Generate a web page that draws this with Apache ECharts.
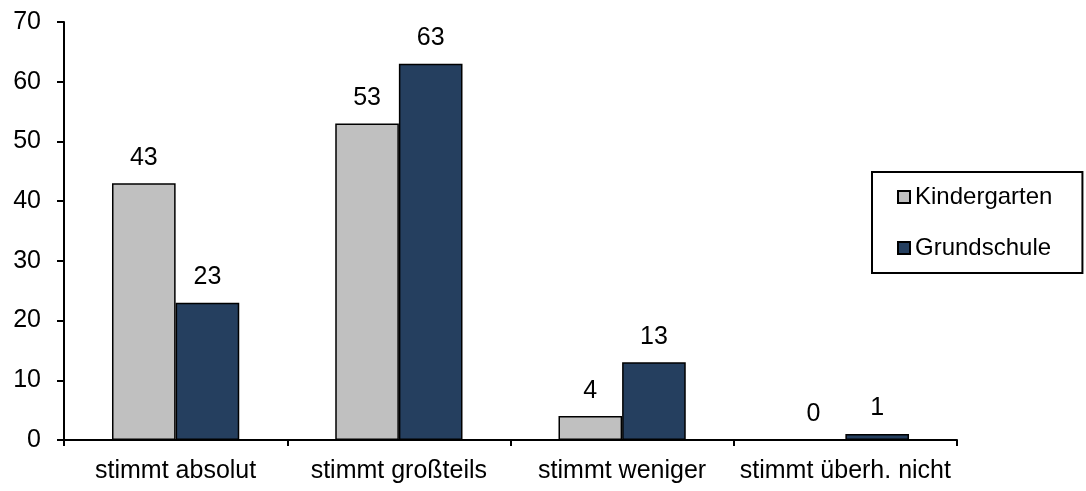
<!DOCTYPE html>
<html>
<head>
<meta charset="utf-8">
<script src="https://cdn.jsdelivr.net/npm/echarts@6/dist/echarts.min.js"></script>
<style>
  html, body { margin: 0; padding: 0; background: #fff; }
  #chart { width: 1086px; height: 491px; }
</style>
</head>
<body>
<div id="chart"></div>
<script>
// Antworten je Kategorie (Prozent)
const categories = ['stimmt absolut', 'stimmt großteils', 'stimmt weniger', 'stimmt überh. nicht'];
const kindergarten = [43, 53, 4, 0];
const grundschule = [23, 63, 13, 1];
const yTicks = { min: 0, max: 70, interval: 10 };

const font = 'Liberation Sans, Arial, sans-serif';
const chart = echarts.init(document.getElementById('chart'), null, { renderer: 'canvas' });

const barLabel = {
  show: true,
  position: 'top',
  distance: 13,
  color: '#000',
  fontFamily: font,
  fontSize: 25
};

chart.setOption({
  animation: false,
  backgroundColor: '#fff',
  grid: { left: 64, right: 129, top: 22, bottom: 51, containLabel: false },
  legend: {
    orient: 'vertical',
    left: 872,
    top: 172,
    padding: [13, 30, 13, 25],
    borderColor: '#000',
    borderWidth: 2,
    itemWidth: 12,
    itemHeight: 12,
    itemGap: 27,
    icon: 'rect',
    textStyle: { color: '#000', fontFamily: font, fontSize: 24, lineHeight: 24 },
    data: ['Kindergarten', 'Grundschule']
  },
  xAxis: {
    type: 'category',
    data: categories,
    axisLine: { lineStyle: { color: '#000', width: 2 } },
    axisTick: { show: true, alignWithLabel: false, length: 6, lineStyle: { color: '#000', width: 2 } },
    axisLabel: { color: '#000', fontFamily: font, fontSize: 25, margin: 19, interval: 0 },
    splitLine: { show: false }
  },
  yAxis: {
    type: 'value',
    min: yTicks.min,
    max: yTicks.max,
    interval: yTicks.interval,
    axisLine: { show: true, lineStyle: { color: '#000', width: 2 } },
    axisTick: { show: true, length: 7, lineStyle: { color: '#000', width: 2 } },
    axisLabel: { color: '#000', fontFamily: font, fontSize: 25, margin: 23 },
    splitLine: { show: false }
  },
  series: [
    {
      name: 'Kindergarten',
      type: 'bar',
      data: kindergarten,
      barGap: '0%',
      barCategoryGap: '43%',
      itemStyle: { color: '#c0c0c0', borderColor: '#000', borderWidth: 1.5 },
      label: barLabel
    },
    {
      name: 'Grundschule',
      type: 'bar',
      data: grundschule,
      barGap: '0%',
      barCategoryGap: '43%',
      itemStyle: { color: '#253f5f', borderColor: '#000', borderWidth: 1.5 },
      label: barLabel
    }
  ]
});
</script>
</body>
</html>
